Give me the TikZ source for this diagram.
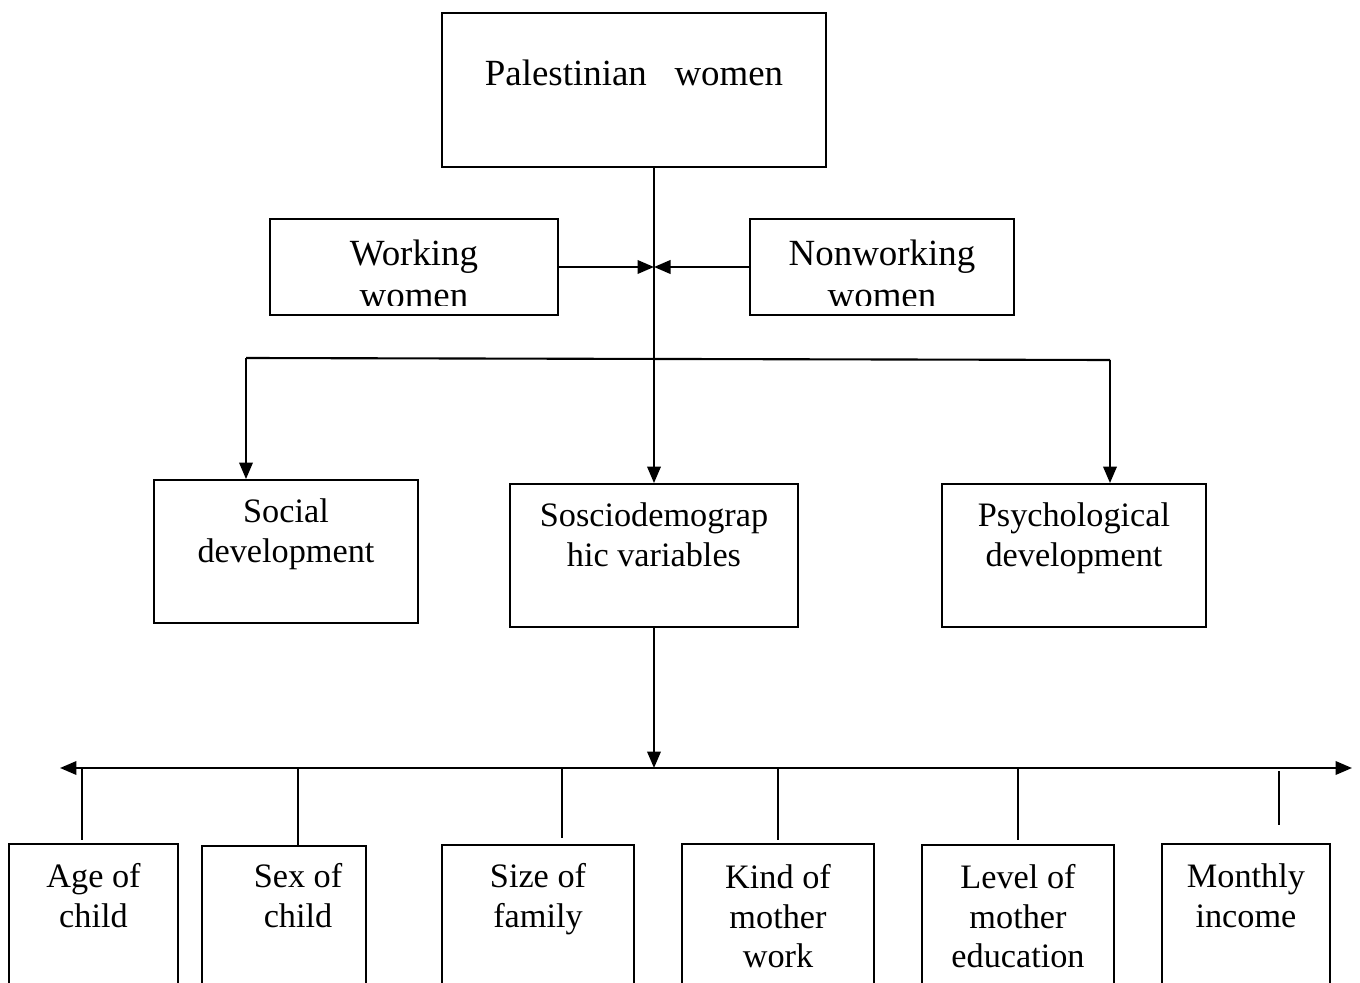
\documentclass[tikz,border=0pt]{standalone}
\usepackage{fontspec}
\setmainfont{Liberation Serif}
\usetikzlibrary{arrows.meta, positioning, calc}
\tikzset{
    box/.style={rectangle, draw, line width=1.1pt, inner sep=0pt},
    boxtext/.style={align=center, anchor=base, inner sep=0pt, font=\fontsize{19.5}{22.2}\selectfont},
    bigtext/.style={boxtext, font=\fontsize{21}{24.4}\selectfont},
    leaf/.style={box, anchor=north, minimum height=3.4cm},
    arrow/.style={-{Triangle[length=3.3mm, width=2.7mm]}, line width=1.2pt},
    stem/.style={line width=0.9pt},
}

\begin{document}
\begin{tikzpicture}[x=0.02cm, y=-0.02cm]
    \clip (0,0) rectangle (1360,983);
    % women
    \node[box, minimum width=7.68cm, minimum height=3.08cm] (pal) at (634,90) {};
    \node[bigtext] (pal-t) at (634,86) {Palestinian\ \ \ women};
    \node[box, minimum width=5.76cm, minimum height=1.92cm] (work) at (414,267) {};
    \node[box, minimum width=5.28cm, minimum height=1.92cm] (nonwork) at (882,267) {};
    \begin{scope}
        \clip (work.north west) rectangle ($(nonwork.south east)+(0,-10)$);
        \node[bigtext] (work-t) at (414,308) {Working\\women};
        \node[bigtext] (nonwork-t) at (882,308) {Nonworking\\women};
    \end{scope}
    % development
    \node[box, minimum width=5.28cm, minimum height=2.86cm] (social) at (286,551.5) {};
    \node[boxtext] (social-t) at (286,562) {Social\\development};
    \node[box, minimum width=5.76cm, minimum height=2.86cm] (socio) at (654,555.5) {};
    \node[boxtext] (socio-t) at (654,566) {Sosciodemograp\\hic variables};
    \node[box, minimum width=5.28cm, minimum height=2.86cm] (psych) at (1074,555.5) {};
    \node[boxtext] (psych-t) at (1074,566) {Psychological\\development};
    % variables
    \node[leaf, minimum width=3.38cm] (age) at (93.5,843) {};
    \node[boxtext] (age-t) at (93.5,927) {Age of\\child};
    \node[leaf, minimum width=3.28cm] (sex) at (284,845) {};
    \node[boxtext] (sex-t) at (298,927) {Sex of\\child};
    \node[leaf, minimum width=3.84cm] (size) at (538,844) {};
    \node[boxtext] (size-t) at (538,927) {Size of\\family};
    \node[leaf, minimum width=3.84cm] (kind) at (778,843) {};
    \node[boxtext] (kind-t) at (778,967) {Kind of\\mother\\work};
    \node[leaf, minimum width=3.84cm] (level) at (1018,844) {};
    \node[boxtext] (level-t) at (1018,967) {Level of\\mother\\education};
    \node[leaf, minimum width=3.36cm] (income) at (1246,843) {};
    \node[boxtext] (income-t) at (1246,927) {Monthly\\income};

    \coordinate (meet) at (socio.north |- work.east);
    \draw[arrow] (work.east) -- (meet);
    \draw[arrow] (nonwork.west) -- (meet);
    \draw[arrow] (socio.north |- pal.south) -- (socio.north);

    \coordinate (splitL) at (246,358);
    \coordinate (splitR) at (1110,360);
    \draw[line width=1.2pt] (splitL) -- (splitR);
    \draw[arrow] (splitL) -- (splitL |- social.north);
    \draw[arrow] (splitR) -- (splitR |- psych.north);

    \coordinate (busL) at (60,768);
    \coordinate (busR) at (1352,768);
    \draw[arrow] (socio.south) -- (socio.south |- busL);
    \draw[{Triangle[length=3.3mm, width=2.7mm]}-{Triangle[length=3.3mm, width=2.7mm]}, line width=1.2pt] (busL) -- (busR);
    \foreach \x/\y in {82/840, 298/845, 562/838, 778/840, 1018/840}
        \draw[stem] (\x,768) -- (\x,\y);
    \draw[stem] (1279,771) -- (1279,825);
\end{tikzpicture}
\end{document}
